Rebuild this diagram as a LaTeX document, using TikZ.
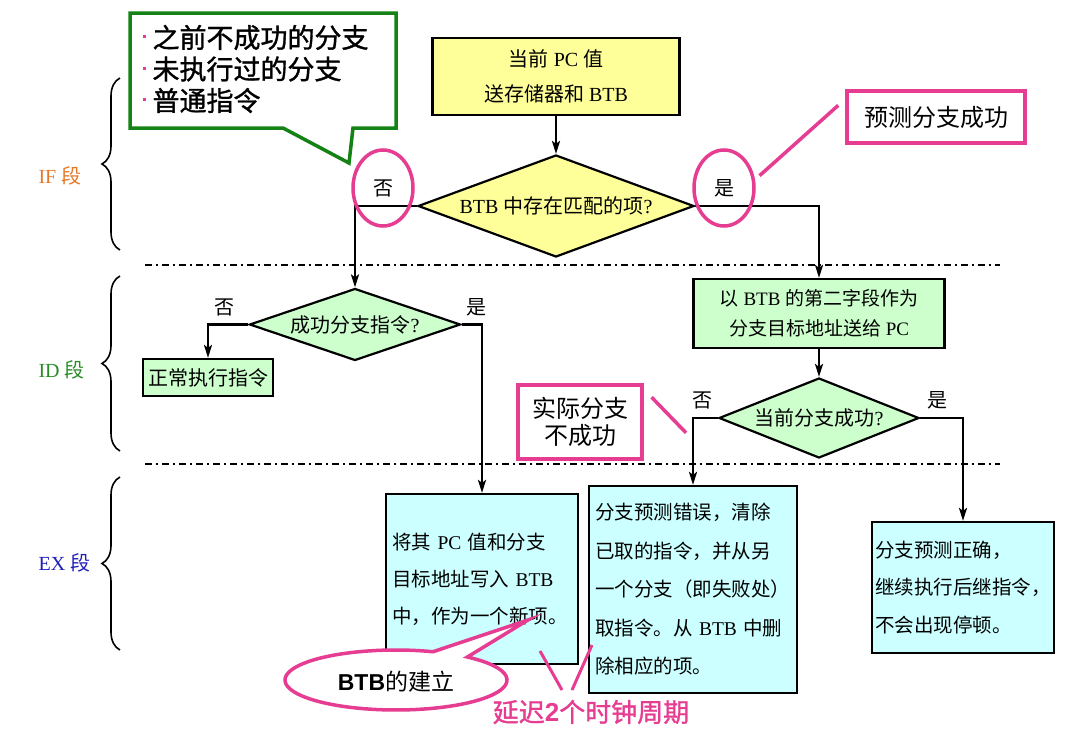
\documentclass[tikz,border=0pt]{standalone}
\usepackage{fontspec}
\setmainfont{Noto Sans CJK SC}
\newfontfamily\latfont{Liberation Serif}
\newfontfamily\heiti{Noto Sans CJK SC}[FakeBold=1.2]
\newfontfamily\arialfont{Liberation Sans}
\usetikzlibrary{arrows.meta,shapes.geometric,decorations.pathreplacing,calc,positioning}
\definecolor{fillyel}{RGB}{255,255,153}
\definecolor{fillgrn}{RGB}{204,255,204}
\definecolor{fillcyn}{RGB}{204,255,255}
\definecolor{hotpink}{RGB}{230,60,145}
\definecolor{callgrn}{RGB}{20,130,20}
\definecolor{ifcol}{RGB}{230,120,40}
\definecolor{idcol}{RGB}{40,140,40}
\definecolor{excol}{RGB}{30,30,190}
\newcommand\eng[1]{{\latfont #1}}
\newcommand\notebul{{\color{hotpink}\raisebox{0.35em}{\rule{3pt}{3pt}}}\hspace{7pt}}
\begin{document}
\begin{tikzpicture}[x=1pt,y=-1pt,
  >={Stealth[length=13pt,width=8pt,inset=3pt]},
  flow/.style={line width=2.4pt},
  txt/.style={font=\fontsize{20}{35}\selectfont},
  box/.style={draw,line width=2.2pt,inner sep=0pt,align=center},
  decide/.style={diamond,draw,line width=2.2pt,inner sep=0pt},
  exbox/.style={draw,line width=2.2pt,fill=fillcyn,align=left,inner ysep=0pt},
  pinkline/.style={hotpink,line width=3.5pt},
  ring/.style={ellipse,draw=hotpink,line width=3.5pt,minimum width=60pt,minimum height=76pt,inner sep=0pt},
  sep/.style={line width=2pt,dash pattern=on 7pt off 4pt on 2pt off 4pt},
  stagebrace/.style={decorate,decoration={brace,amplitude=18pt},line width=1.6pt},
  stage/.style={anchor=west,font=\fontsize{20}{24}\selectfont},
  lab/.style={font=\fontsize{20}{24}\selectfont}]
  \fill[white] (0,0) rectangle (1080,731);
  \useasboundingbox (0,0) rectangle (1080,731);
  % stages and separators
  \node[stage,text=ifcol] (ifL) at (35,176) {\eng{IF }段};
  \node[stage,text=idcol] (idL) at (35,370) {\eng{ID }段};
  \node[stage,text=excol] (exL) at (35,563) {\eng{EX }段};
  \draw[stagebrace] (120,250) -- (120,78);
  \draw[stagebrace] (120,451) -- (120,276);
  \draw[stagebrace] (120,650) -- (120,477);
  \draw[sep] (145,265) -- (1000,265);
  \draw[sep] (145,464) -- (1000,464);
  % flow nodes
  \node[box,fill=fillyel,txt,minimum width=247pt,minimum height=77pt] (pcBox) at (556,76.5) {当前\eng{ PC }值\\送存储器和\eng{ BTB}};
  \node[decide,fill=fillyel,txt,shape aspect=2.7,minimum width=276pt,minimum height=102pt] (d1) at (556,206) {\eng{BTB }中存在匹配的项\eng{?}};
  \node[decide,fill=fillgrn,txt,shape aspect=2.93,minimum width=211pt,minimum height=72pt] (d2) at (355,324.5) {成功分支指令\eng{?}};
  \node[box,fill=fillgrn,txt,minimum width=130pt,minimum height=37pt] (normBox) at (208,377.5) {正常执行指令};
  \node[box,fill=fillgrn,font=\fontsize{19}{30}\selectfont,minimum width=251pt,minimum height=69pt] (tgtBox) at (819,313.5) {以\eng{ BTB }的第二字段作为\\分支目标地址送给\eng{ PC}};
  \node[decide,fill=fillgrn,txt,shape aspect=2.5,minimum width=200pt,minimum height=80pt] (d3) at (819,418) {当前分支成功\eng{?}};
  \node[exbox,text width=180pt,inner xsep=6pt,minimum height=170pt,font=\fontsize{19.5}{37}\selectfont] (writeBox) at (482,579) {将其\eng{ PC }值和分支\\目标地址写入\eng{ BTB}\\中，作为一个新项。};
  \node[exbox,text width=196pt,inner xsep=6pt,minimum height=207pt,font=\fontsize{19.5}{38.5}\selectfont] (flush) at (693,589.5) {分支预测错误，清除\\已取的指令，并从另\\一个分支（即失败处）\\取指令。从\eng{ BTB }中删\\除相应的项。};
  \node[exbox,text width=176pt,inner xsep=3pt,minimum height=131pt,font=\fontsize{19.5}{37.5}\selectfont] (okBox) at (963,587.5) {分支预测正确，\\继续执行后继指令，\\不会出现停顿。};
  % connectors
  \draw[flow,->] (pcBox) -- (d1);
  \draw[flow,->] (d1.west) -| (d2.north);
  \draw[flow,->] (d1.east) -| (tgtBox.north);
  \draw[flow,->] (d2.west) -| (normBox.north);
  \draw[flow,->] (d2.east) -| (writeBox.north);
  \draw[flow,->] (tgtBox) -- (d3);
  \draw[flow,->] (d3.west) -| (flush.north);
  \draw[flow,->] (d3.east) -| (okBox.north);
  % branch labels
  \node[ring,lab] (noA) at (383,188) {否};
  \node[ring,lab] (yesA) at (724,188) {是};
  \node[lab] (noB) at (224,307) {否};
  \node[lab] (yesB) at (476,307) {是};
  \node[lab] (noC) at (702,400) {否};
  \node[lab] (yesC) at (937,400) {是};
  % callout: branches not in BTB
  \draw[callgrn,line width=3.5pt,fill=white] (130,13) -- (396,13) -- (396,128) -- (353,128) -- (349,163) -- (283,128) -- (130,128) -- cycle;
  \node[anchor=west,align=left,font={\heiti\fontsize{27}{31.5}\selectfont}] (oldNote) at (139,69) {\notebul 之前不成功的分支\\\notebul 未执行过的分支\\\notebul 普通指令};
  % callout: predicted taken
  \node[draw=hotpink,line width=4pt,fill=white,minimum width=178pt,minimum height=52pt,font=\fontsize{24}{28}\selectfont] (predict) at (936,117) {预测分支成功};
  \draw[pinkline,shorten <=6pt,shorten >=9pt] (yesA.15) -- (predict.169);
  % callout: actually not taken
  \node[draw=hotpink,line width=4pt,fill=white,minimum width=124pt,minimum height=74pt,align=center,font=\fontsize{24}{27}\selectfont] (failBox) at (580,422) {实际分支\\不成功};
  \coordinate (noTurn) at (d3.west -| flush.north);
  \draw[pinkline,shorten <=11pt,shorten >=10pt] (failBox.27) -- ($(noTurn)+(0,22)$);
  % callout: new BTB entry
  \draw[hotpink,line width=3.5pt,fill=white] plot[domain=-50:289.5,samples=90] ({396+111*cos(\x)},{680+30*sin(\x)}) -- (528,620) -- cycle;
  \node[font=\fontsize{23}{26}\selectfont] (btbNew) at (396,682) {{\arialfont\bfseries BTB}的建立};
  % two-cycle delay
  \node[text=hotpink,font={\heiti\fontsize{26}{30}\selectfont}] (delay) at (591,712) {延迟{\arialfont\bfseries 2}个时钟周期};
  \draw[pinkline,line width=3pt] (562,690) -- (540,651);
  \draw[pinkline,line width=3pt] (572,690) -- (592,645);
\end{tikzpicture}
\end{document}
